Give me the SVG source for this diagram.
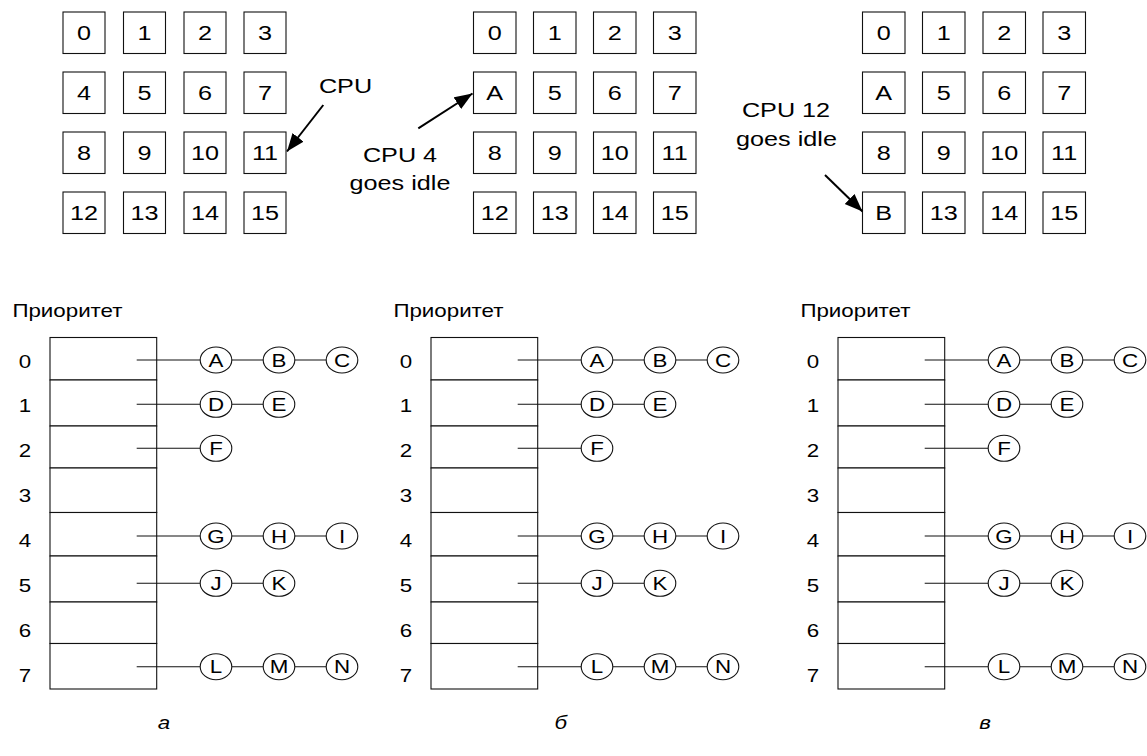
<svg xmlns="http://www.w3.org/2000/svg" width="1147" height="756" viewBox="0 0 1147 756">
  <style>
    .t { font-family: "Liberation Sans", Arial, sans-serif; fill: #000; text-anchor: middle;
         transform-box: fill-box; transform-origin: center; transform: scaleX(1.2); }
    .big { font-size: 21px; }
    .sm { font-size: 18.6px; }
    .it { font-style: italic; }
    .cell { fill: #fff; stroke: #111; stroke-width: 1.1; }
    .slot { fill: #fff; stroke: #111; stroke-width: 1.1; }
    .proc { fill: #fff; stroke: #111; stroke-width: 1.1; }
    .link { stroke: #111; stroke-width: 1.1; fill: none; }
    .arrow { stroke: #000; stroke-width: 2; fill: none; marker-end: url(#head); }
  </style>
  <defs>
    <marker id="head" markerUnits="userSpaceOnUse" markerWidth="20" markerHeight="16"
            refX="18" refY="7" orient="auto">
      <path d="M0,0 L18,7 L0,14 z" fill="#000"/>
    </marker>
    <!-- one CPU cell: 42x41.5 square -->
    <rect id="cellShape" width="42.5" height="41.5"/>
  </defs>

  <rect width="1147" height="756" fill="#fff"/>

  <!-- ===== CPU grids ===== -->
  <g id="grid-a">
    <g id="a-cpu0"><rect class="cell" x="63" y="12" width="42" height="41.5"/><text class="t big" x="84" y="40">0</text></g>
    <g id="a-cpu1"><rect class="cell" x="123.5" y="12" width="42" height="41.5"/><text class="t big" x="144.5" y="40">1</text></g>
    <g id="a-cpu2"><rect class="cell" x="184" y="12" width="42" height="41.5"/><text class="t big" x="205" y="40">2</text></g>
    <g id="a-cpu3"><rect class="cell" x="244" y="12" width="42" height="41.5"/><text class="t big" x="265" y="40">3</text></g>
    <g id="a-cpu4"><rect class="cell" x="63" y="72" width="42" height="41.5"/><text class="t big" x="84" y="100">4</text></g>
    <g id="a-cpu5"><rect class="cell" x="123.5" y="72" width="42" height="41.5"/><text class="t big" x="144.5" y="100">5</text></g>
    <g id="a-cpu6"><rect class="cell" x="184" y="72" width="42" height="41.5"/><text class="t big" x="205" y="100">6</text></g>
    <g id="a-cpu7"><rect class="cell" x="244" y="72" width="42" height="41.5"/><text class="t big" x="265" y="100">7</text></g>
    <g id="a-cpu8"><rect class="cell" x="63" y="132" width="42" height="41.5"/><text class="t big" x="84" y="160">8</text></g>
    <g id="a-cpu9"><rect class="cell" x="123.5" y="132" width="42" height="41.5"/><text class="t big" x="144.5" y="160">9</text></g>
    <g id="a-cpu10"><rect class="cell" x="184" y="132" width="42" height="41.5"/><text class="t big" x="205" y="160">10</text></g>
    <g id="a-cpu11"><rect class="cell" x="244" y="132" width="42" height="41.5"/><text class="t big" x="265" y="160">11</text></g>
    <g id="a-cpu12"><rect class="cell" x="63" y="192" width="42" height="41.5"/><text class="t big" x="84" y="220">12</text></g>
    <g id="a-cpu13"><rect class="cell" x="123.5" y="192" width="42" height="41.5"/><text class="t big" x="144.5" y="220">13</text></g>
    <g id="a-cpu14"><rect class="cell" x="184" y="192" width="42" height="41.5"/><text class="t big" x="205" y="220">14</text></g>
    <g id="a-cpu15"><rect class="cell" x="244" y="192" width="42" height="41.5"/><text class="t big" x="265" y="220">15</text></g>
    <g id="a-note"><text class="t big" x="345.5" y="93.3">CPU</text></g>
  </g>

  <g id="grid-b">
    <g id="b-cpu0"><rect class="cell" x="473.5" y="12" width="42.5" height="41.5"/><text class="t big" x="494.7" y="40">0</text></g>
    <g id="b-cpu1"><rect class="cell" x="533.5" y="12" width="42.5" height="41.5"/><text class="t big" x="554.7" y="40">1</text></g>
    <g id="b-cpu2"><rect class="cell" x="593.5" y="12" width="42.5" height="41.5"/><text class="t big" x="614.7" y="40">2</text></g>
    <g id="b-cpu3"><rect class="cell" x="653.5" y="12" width="42.5" height="41.5"/><text class="t big" x="674.7" y="40">3</text></g>
    <g id="b-cpu4"><rect class="cell" x="473.5" y="72" width="42.5" height="41.5"/><text class="t big" x="494.7" y="100">A</text></g>
    <g id="b-cpu5"><rect class="cell" x="533.5" y="72" width="42.5" height="41.5"/><text class="t big" x="554.7" y="100">5</text></g>
    <g id="b-cpu6"><rect class="cell" x="593.5" y="72" width="42.5" height="41.5"/><text class="t big" x="614.7" y="100">6</text></g>
    <g id="b-cpu7"><rect class="cell" x="653.5" y="72" width="42.5" height="41.5"/><text class="t big" x="674.7" y="100">7</text></g>
    <g id="b-cpu8"><rect class="cell" x="473.5" y="132" width="42.5" height="41.5"/><text class="t big" x="494.7" y="160">8</text></g>
    <g id="b-cpu9"><rect class="cell" x="533.5" y="132" width="42.5" height="41.5"/><text class="t big" x="554.7" y="160">9</text></g>
    <g id="b-cpu10"><rect class="cell" x="593.5" y="132" width="42.5" height="41.5"/><text class="t big" x="614.7" y="160">10</text></g>
    <g id="b-cpu11"><rect class="cell" x="653.5" y="132" width="42.5" height="41.5"/><text class="t big" x="674.7" y="160">11</text></g>
    <g id="b-cpu12"><rect class="cell" x="473.5" y="192" width="42.5" height="41.5"/><text class="t big" x="494.7" y="220">12</text></g>
    <g id="b-cpu13"><rect class="cell" x="533.5" y="192" width="42.5" height="41.5"/><text class="t big" x="554.7" y="220">13</text></g>
    <g id="b-cpu14"><rect class="cell" x="593.5" y="192" width="42.5" height="41.5"/><text class="t big" x="614.7" y="220">14</text></g>
    <g id="b-cpu15"><rect class="cell" x="653.5" y="192" width="42.5" height="41.5"/><text class="t big" x="674.7" y="220">15</text></g>
    <g id="b-note"><text class="t big" x="400" y="162.5">CPU 4</text><text class="t big" x="400" y="190">goes idle</text></g>
  </g>

  <g id="grid-c">
    <g id="c-cpu0"><rect class="cell" x="862.5" y="12" width="42.5" height="41.5"/><text class="t big" x="883.7" y="40">0</text></g>
    <g id="c-cpu1"><rect class="cell" x="922.5" y="12" width="42.5" height="41.5"/><text class="t big" x="943.7" y="40">1</text></g>
    <g id="c-cpu2"><rect class="cell" x="983" y="12" width="42.5" height="41.5"/><text class="t big" x="1004.2" y="40">2</text></g>
    <g id="c-cpu3"><rect class="cell" x="1043" y="12" width="42.5" height="41.5"/><text class="t big" x="1064.2" y="40">3</text></g>
    <g id="c-cpu4"><rect class="cell" x="862.5" y="72" width="42.5" height="41.5"/><text class="t big" x="883.7" y="100">A</text></g>
    <g id="c-cpu5"><rect class="cell" x="922.5" y="72" width="42.5" height="41.5"/><text class="t big" x="943.7" y="100">5</text></g>
    <g id="c-cpu6"><rect class="cell" x="983" y="72" width="42.5" height="41.5"/><text class="t big" x="1004.2" y="100">6</text></g>
    <g id="c-cpu7"><rect class="cell" x="1043" y="72" width="42.5" height="41.5"/><text class="t big" x="1064.2" y="100">7</text></g>
    <g id="c-cpu8"><rect class="cell" x="862.5" y="132" width="42.5" height="41.5"/><text class="t big" x="883.7" y="160">8</text></g>
    <g id="c-cpu9"><rect class="cell" x="922.5" y="132" width="42.5" height="41.5"/><text class="t big" x="943.7" y="160">9</text></g>
    <g id="c-cpu10"><rect class="cell" x="983" y="132" width="42.5" height="41.5"/><text class="t big" x="1004.2" y="160">10</text></g>
    <g id="c-cpu11"><rect class="cell" x="1043" y="132" width="42.5" height="41.5"/><text class="t big" x="1064.2" y="160">11</text></g>
    <g id="c-cpu12"><rect class="cell" x="862.5" y="192" width="42.5" height="41.5"/><text class="t big" x="883.7" y="220">B</text></g>
    <g id="c-cpu13"><rect class="cell" x="922.5" y="192" width="42.5" height="41.5"/><text class="t big" x="943.7" y="220">13</text></g>
    <g id="c-cpu14"><rect class="cell" x="983" y="192" width="42.5" height="41.5"/><text class="t big" x="1004.2" y="220">14</text></g>
    <g id="c-cpu15"><rect class="cell" x="1043" y="192" width="42.5" height="41.5"/><text class="t big" x="1064.2" y="220">15</text></g>
    <g id="c-note"><text class="t big" x="786" y="117">CPU 12</text><text class="t big" x="786.5" y="146">goes idle</text></g>
  </g>

  <!-- arrows pointing at CPUs -->
  <g id="cpu-arrows">
    <line class="arrow" x1="323.3" y1="105" x2="287" y2="151.5"/>
    <line class="arrow" x1="418.3" y1="128.3" x2="472.5" y2="93.5"/>
    <line class="arrow" x1="825" y1="175" x2="862.5" y2="211.5"/>
  </g>

  <!-- ===== priority tables (same layout, shifted) ===== -->
  <g id="tables">
    <g id="table-a" transform="translate(0,0)">
      <g id="a-head"><text class="t sm" x="67.5" y="316.7">Приоритет</text></g>
      <g id="a-array">
        <rect class="slot" x="50" y="337.5" width="106.7" height="42.5"/>
        <rect class="slot" x="50" y="380" width="106.7" height="46"/>
        <rect class="slot" x="50" y="426" width="106.7" height="42"/>
        <rect class="slot" x="50" y="468" width="106.7" height="44.5"/>
        <rect class="slot" x="50" y="512.5" width="106.7" height="43.5"/>
        <rect class="slot" x="50" y="556" width="106.7" height="46"/>
        <rect class="slot" x="50" y="602" width="106.7" height="41.5"/>
        <rect class="slot" x="50" y="643.5" width="106.7" height="45.5"/>
        <text class="t sm" x="25" y="368.3">0</text>
        <text class="t sm" x="25" y="412.5">1</text>
        <text class="t sm" x="25" y="456.7">2</text>
        <text class="t sm" x="25" y="502">3</text>
        <text class="t sm" x="25" y="547.5">4</text>
        <text class="t sm" x="25" y="591.7">5</text>
        <text class="t sm" x="25" y="636.7">6</text>
        <text class="t sm" x="25" y="681.7">7</text>
      </g>
      <g id="a-links">
        <line class="link" x1="136.7" y1="360" x2="200.2" y2="360"/>
        <line class="link" x1="231.8" y1="360" x2="263.2" y2="360"/>
        <line class="link" x1="294.8" y1="360" x2="326.2" y2="360"/>
        <line class="link" x1="136.7" y1="404.3" x2="200.2" y2="404.3"/>
        <line class="link" x1="231.8" y1="404.3" x2="263.2" y2="404.3"/>
        <line class="link" x1="136.7" y1="448.3" x2="200.2" y2="448.3"/>
        <line class="link" x1="136.7" y1="536" x2="200.2" y2="536"/>
        <line class="link" x1="231.8" y1="536" x2="263.2" y2="536"/>
        <line class="link" x1="294.8" y1="536" x2="326.2" y2="536"/>
        <line class="link" x1="136.7" y1="583.3" x2="200.2" y2="583.3"/>
        <line class="link" x1="231.8" y1="583.3" x2="263.2" y2="583.3"/>
        <line class="link" x1="136.7" y1="666.7" x2="200.2" y2="666.7"/>
        <line class="link" x1="231.8" y1="666.7" x2="263.2" y2="666.7"/>
        <line class="link" x1="294.8" y1="666.7" x2="326.2" y2="666.7"/>
      </g>
      <g id="a-A"><ellipse class="proc" cx="216" cy="360" rx="15.8" ry="13"/><text class="t sm" x="216" y="366.7">A</text></g>
      <g id="a-B"><ellipse class="proc" cx="279" cy="360" rx="15.8" ry="13"/><text class="t sm" x="279" y="366.7">B</text></g>
      <g id="a-C"><ellipse class="proc" cx="342" cy="360" rx="15.8" ry="13"/><text class="t sm" x="342" y="366.7">C</text></g>
      <g id="a-D"><ellipse class="proc" cx="216" cy="404.3" rx="15.8" ry="13"/><text class="t sm" x="216" y="411">D</text></g>
      <g id="a-E"><ellipse class="proc" cx="279" cy="404.3" rx="15.8" ry="13"/><text class="t sm" x="279" y="411">E</text></g>
      <g id="a-F"><ellipse class="proc" cx="216" cy="448.3" rx="15.8" ry="13"/><text class="t sm" x="216" y="455">F</text></g>
      <g id="a-G"><ellipse class="proc" cx="216" cy="536" rx="15.8" ry="13"/><text class="t sm" x="216" y="542.7">G</text></g>
      <g id="a-H"><ellipse class="proc" cx="279" cy="536" rx="15.8" ry="13"/><text class="t sm" x="279" y="542.7">H</text></g>
      <g id="a-I"><ellipse class="proc" cx="342" cy="536" rx="15.8" ry="13"/><text class="t sm" x="342" y="542.7">I</text></g>
      <g id="a-J"><ellipse class="proc" cx="216" cy="583.3" rx="15.8" ry="13"/><text class="t sm" x="216" y="590">J</text></g>
      <g id="a-K"><ellipse class="proc" cx="279" cy="583.3" rx="15.8" ry="13"/><text class="t sm" x="279" y="590">K</text></g>
      <g id="a-L"><ellipse class="proc" cx="216" cy="666.7" rx="15.8" ry="13"/><text class="t sm" x="216" y="673.4">L</text></g>
      <g id="a-M"><ellipse class="proc" cx="279" cy="666.7" rx="15.8" ry="13"/><text class="t sm" x="279" y="673.4">M</text></g>
      <g id="a-N"><ellipse class="proc" cx="342" cy="666.7" rx="15.8" ry="13"/><text class="t sm" x="342" y="673.4">N</text></g>
    </g>

    <g id="table-b" transform="translate(381,0)">
      <g id="b-head"><text class="t sm" x="67.5" y="316.7">Приоритет</text></g>
      <g id="b-array">
        <rect class="slot" x="50" y="337.5" width="106.7" height="42.5"/>
        <rect class="slot" x="50" y="380" width="106.7" height="46"/>
        <rect class="slot" x="50" y="426" width="106.7" height="42"/>
        <rect class="slot" x="50" y="468" width="106.7" height="44.5"/>
        <rect class="slot" x="50" y="512.5" width="106.7" height="43.5"/>
        <rect class="slot" x="50" y="556" width="106.7" height="46"/>
        <rect class="slot" x="50" y="602" width="106.7" height="41.5"/>
        <rect class="slot" x="50" y="643.5" width="106.7" height="45.5"/>
        <text class="t sm" x="25" y="368.3">0</text>
        <text class="t sm" x="25" y="412.5">1</text>
        <text class="t sm" x="25" y="456.7">2</text>
        <text class="t sm" x="25" y="502">3</text>
        <text class="t sm" x="25" y="547.5">4</text>
        <text class="t sm" x="25" y="591.7">5</text>
        <text class="t sm" x="25" y="636.7">6</text>
        <text class="t sm" x="25" y="681.7">7</text>
      </g>
      <g id="b-links">
        <line class="link" x1="136.7" y1="360" x2="200.2" y2="360"/>
        <line class="link" x1="231.8" y1="360" x2="263.2" y2="360"/>
        <line class="link" x1="294.8" y1="360" x2="326.2" y2="360"/>
        <line class="link" x1="136.7" y1="404.3" x2="200.2" y2="404.3"/>
        <line class="link" x1="231.8" y1="404.3" x2="263.2" y2="404.3"/>
        <line class="link" x1="136.7" y1="448.3" x2="200.2" y2="448.3"/>
        <line class="link" x1="136.7" y1="536" x2="200.2" y2="536"/>
        <line class="link" x1="231.8" y1="536" x2="263.2" y2="536"/>
        <line class="link" x1="294.8" y1="536" x2="326.2" y2="536"/>
        <line class="link" x1="136.7" y1="583.3" x2="200.2" y2="583.3"/>
        <line class="link" x1="231.8" y1="583.3" x2="263.2" y2="583.3"/>
        <line class="link" x1="136.7" y1="666.7" x2="200.2" y2="666.7"/>
        <line class="link" x1="231.8" y1="666.7" x2="263.2" y2="666.7"/>
        <line class="link" x1="294.8" y1="666.7" x2="326.2" y2="666.7"/>
      </g>
      <g id="b-A"><ellipse class="proc" cx="216" cy="360" rx="15.8" ry="13"/><text class="t sm" x="216" y="366.7">A</text></g>
      <g id="b-B"><ellipse class="proc" cx="279" cy="360" rx="15.8" ry="13"/><text class="t sm" x="279" y="366.7">B</text></g>
      <g id="b-C"><ellipse class="proc" cx="342" cy="360" rx="15.8" ry="13"/><text class="t sm" x="342" y="366.7">C</text></g>
      <g id="b-D"><ellipse class="proc" cx="216" cy="404.3" rx="15.8" ry="13"/><text class="t sm" x="216" y="411">D</text></g>
      <g id="b-E"><ellipse class="proc" cx="279" cy="404.3" rx="15.8" ry="13"/><text class="t sm" x="279" y="411">E</text></g>
      <g id="b-F"><ellipse class="proc" cx="216" cy="448.3" rx="15.8" ry="13"/><text class="t sm" x="216" y="455">F</text></g>
      <g id="b-G"><ellipse class="proc" cx="216" cy="536" rx="15.8" ry="13"/><text class="t sm" x="216" y="542.7">G</text></g>
      <g id="b-H"><ellipse class="proc" cx="279" cy="536" rx="15.8" ry="13"/><text class="t sm" x="279" y="542.7">H</text></g>
      <g id="b-I"><ellipse class="proc" cx="342" cy="536" rx="15.8" ry="13"/><text class="t sm" x="342" y="542.7">I</text></g>
      <g id="b-J"><ellipse class="proc" cx="216" cy="583.3" rx="15.8" ry="13"/><text class="t sm" x="216" y="590">J</text></g>
      <g id="b-K"><ellipse class="proc" cx="279" cy="583.3" rx="15.8" ry="13"/><text class="t sm" x="279" y="590">K</text></g>
      <g id="b-L"><ellipse class="proc" cx="216" cy="666.7" rx="15.8" ry="13"/><text class="t sm" x="216" y="673.4">L</text></g>
      <g id="b-M"><ellipse class="proc" cx="279" cy="666.7" rx="15.8" ry="13"/><text class="t sm" x="279" y="673.4">M</text></g>
      <g id="b-N"><ellipse class="proc" cx="342" cy="666.7" rx="15.8" ry="13"/><text class="t sm" x="342" y="673.4">N</text></g>
    </g>

    <g id="table-c" transform="translate(788,0)">
      <g id="c-head"><text class="t sm" x="67.5" y="316.7">Приоритет</text></g>
      <g id="c-array">
        <rect class="slot" x="50" y="337.5" width="106.7" height="42.5"/>
        <rect class="slot" x="50" y="380" width="106.7" height="46"/>
        <rect class="slot" x="50" y="426" width="106.7" height="42"/>
        <rect class="slot" x="50" y="468" width="106.7" height="44.5"/>
        <rect class="slot" x="50" y="512.5" width="106.7" height="43.5"/>
        <rect class="slot" x="50" y="556" width="106.7" height="46"/>
        <rect class="slot" x="50" y="602" width="106.7" height="41.5"/>
        <rect class="slot" x="50" y="643.5" width="106.7" height="45.5"/>
        <text class="t sm" x="25" y="368.3">0</text>
        <text class="t sm" x="25" y="412.5">1</text>
        <text class="t sm" x="25" y="456.7">2</text>
        <text class="t sm" x="25" y="502">3</text>
        <text class="t sm" x="25" y="547.5">4</text>
        <text class="t sm" x="25" y="591.7">5</text>
        <text class="t sm" x="25" y="636.7">6</text>
        <text class="t sm" x="25" y="681.7">7</text>
      </g>
      <g id="c-links">
        <line class="link" x1="136.7" y1="360" x2="200.2" y2="360"/>
        <line class="link" x1="231.8" y1="360" x2="263.2" y2="360"/>
        <line class="link" x1="294.8" y1="360" x2="326.2" y2="360"/>
        <line class="link" x1="136.7" y1="404.3" x2="200.2" y2="404.3"/>
        <line class="link" x1="231.8" y1="404.3" x2="263.2" y2="404.3"/>
        <line class="link" x1="136.7" y1="448.3" x2="200.2" y2="448.3"/>
        <line class="link" x1="136.7" y1="536" x2="200.2" y2="536"/>
        <line class="link" x1="231.8" y1="536" x2="263.2" y2="536"/>
        <line class="link" x1="294.8" y1="536" x2="326.2" y2="536"/>
        <line class="link" x1="136.7" y1="583.3" x2="200.2" y2="583.3"/>
        <line class="link" x1="231.8" y1="583.3" x2="263.2" y2="583.3"/>
        <line class="link" x1="136.7" y1="666.7" x2="200.2" y2="666.7"/>
        <line class="link" x1="231.8" y1="666.7" x2="263.2" y2="666.7"/>
        <line class="link" x1="294.8" y1="666.7" x2="326.2" y2="666.7"/>
      </g>
      <g id="c-A"><ellipse class="proc" cx="216" cy="360" rx="15.8" ry="13"/><text class="t sm" x="216" y="366.7">A</text></g>
      <g id="c-B"><ellipse class="proc" cx="279" cy="360" rx="15.8" ry="13"/><text class="t sm" x="279" y="366.7">B</text></g>
      <g id="c-C"><ellipse class="proc" cx="342" cy="360" rx="15.8" ry="13"/><text class="t sm" x="342" y="366.7">C</text></g>
      <g id="c-D"><ellipse class="proc" cx="216" cy="404.3" rx="15.8" ry="13"/><text class="t sm" x="216" y="411">D</text></g>
      <g id="c-E"><ellipse class="proc" cx="279" cy="404.3" rx="15.8" ry="13"/><text class="t sm" x="279" y="411">E</text></g>
      <g id="c-F"><ellipse class="proc" cx="216" cy="448.3" rx="15.8" ry="13"/><text class="t sm" x="216" y="455">F</text></g>
      <g id="c-G"><ellipse class="proc" cx="216" cy="536" rx="15.8" ry="13"/><text class="t sm" x="216" y="542.7">G</text></g>
      <g id="c-H"><ellipse class="proc" cx="279" cy="536" rx="15.8" ry="13"/><text class="t sm" x="279" y="542.7">H</text></g>
      <g id="c-I"><ellipse class="proc" cx="342" cy="536" rx="15.8" ry="13"/><text class="t sm" x="342" y="542.7">I</text></g>
      <g id="c-J"><ellipse class="proc" cx="216" cy="583.3" rx="15.8" ry="13"/><text class="t sm" x="216" y="590">J</text></g>
      <g id="c-K"><ellipse class="proc" cx="279" cy="583.3" rx="15.8" ry="13"/><text class="t sm" x="279" y="590">K</text></g>
      <g id="c-L"><ellipse class="proc" cx="216" cy="666.7" rx="15.8" ry="13"/><text class="t sm" x="216" y="673.4">L</text></g>
      <g id="c-M"><ellipse class="proc" cx="279" cy="666.7" rx="15.8" ry="13"/><text class="t sm" x="279" y="673.4">M</text></g>
      <g id="c-N"><ellipse class="proc" cx="342" cy="666.7" rx="15.8" ry="13"/><text class="t sm" x="342" y="673.4">N</text></g>
    </g>
  </g>

  <!-- panel captions -->
  <g id="captions">
    <text class="t sm it" x="164" y="729">а</text>
    <text class="t sm it" x="561" y="729">б</text>
    <text class="t sm it" x="985" y="729">в</text>
  </g>
</svg>
